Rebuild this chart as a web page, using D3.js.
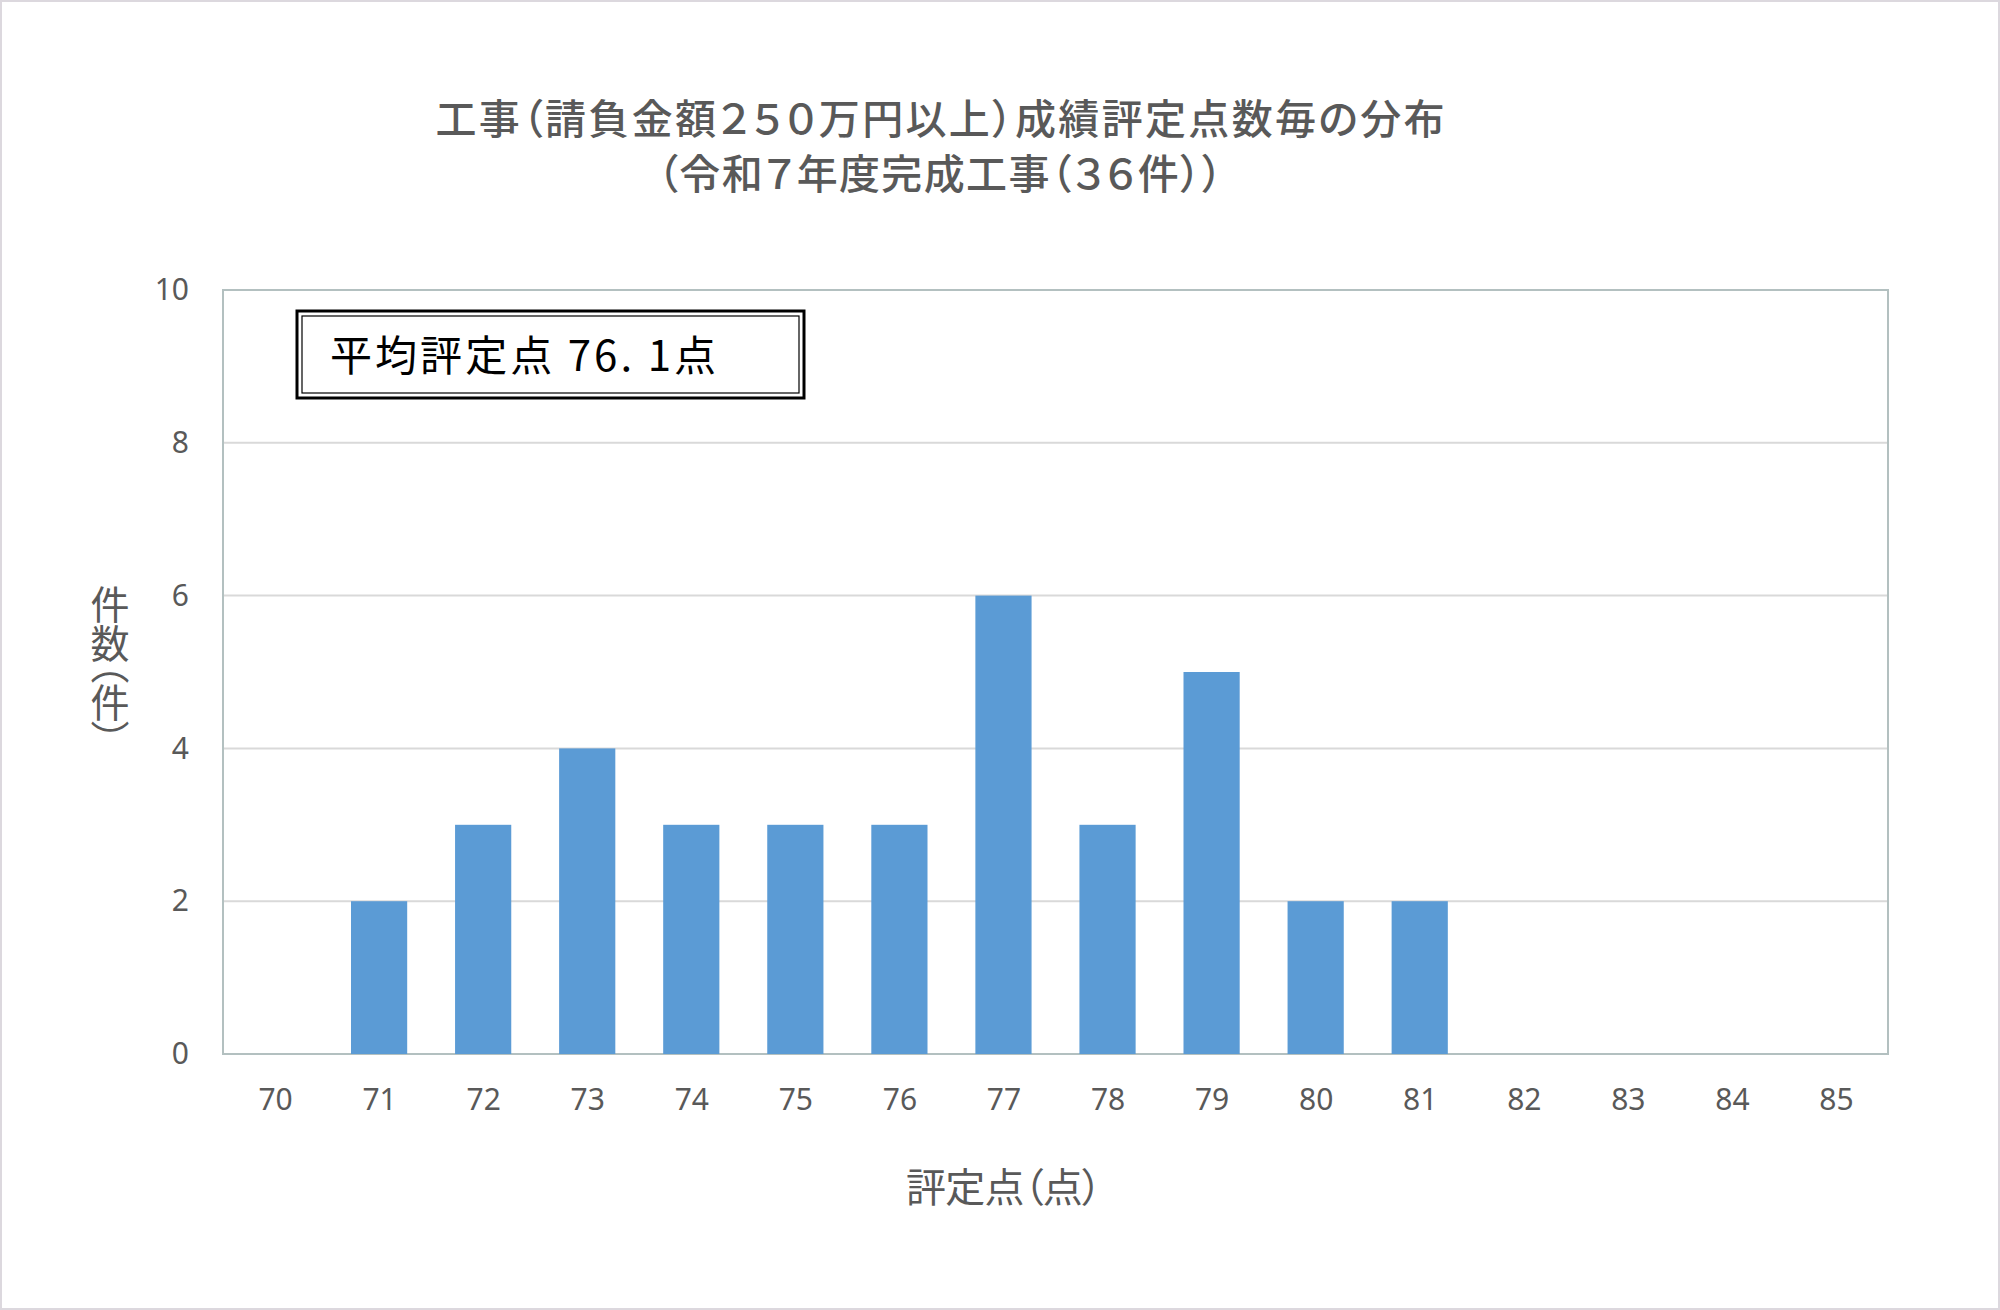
<!DOCTYPE html>
<html>
<head>
<meta charset="utf-8">
<script src="https://d3js.org/d3.v7.min.js"></script>
<style>
  body { margin: 0; background: #fff; }
  text { font-family: "Noto Sans CJK JP", "Noto Sans", sans-serif; }
</style>
</head>
<body>
<div id="chart"></div>
<script>
// data
var scores = ["70", "71", "72", "73", "74", "75", "76", "77", "78", "79", "80", "81", "82", "83", "84", "85"];
var counts = [0, 2, 3, 4, 3, 3, 3, 6, 3, 5, 2, 2, 0, 0, 0, 0];
var yTicks = [0, 2, 4, 6, 8, 10];
var titleLines = ["工事（請負金額２５０万円以上）成績評定点数毎の分布", "（令和７年度完成工事（３６件））"];
var averageLabel = "平均評定点 76. 1点";
var xTitle = "評定点（点）";
var yTitle = "件数（件）";

var W = 2000, H = 1310;
var margin = {top: 290, right: 112, bottom: 256, left: 223},
    width = W - margin.left - margin.right,
    height = H - margin.top - margin.bottom;

var root = d3.select("#chart")
    .append("svg")
    .attr("width", W)
    .attr("height", H);

// outer frame
root.append("rect")
    .attr("x", 1).attr("y", 1)
    .attr("width", W - 2).attr("height", H - 2)
    .attr("fill", "#fff")
    .attr("stroke", "#dcd8de")
    .attr("stroke-width", 2);

// title
root.selectAll(".title")
    .data(titleLines)
    .enter()
    .append("text")
    .attr("class", "title")
    .attr("x", 940)
    .attr("y", function(d, i) { return 134 + i * 55; })
    .attr("text-anchor", "middle")
    .attr("textLength", function(d, i) { return i == 0 ? 1009 : 565; })
    .attr("lengthAdjust", "spacing")
    .style("font-size", "41px")
    .style("font-weight", "500")
    .style("font-feature-settings", "'palt'")
    .style("fill", "#595959")
    .text(function(d) { return d; });

var svg = root.append("g")
    .attr("transform", "translate(" + margin.left + "," + margin.top + ")");

var x = d3.scaleBand()
    .range([0, width])
    .domain(scores)
    .paddingInner(0.46)
    .paddingOuter(0.23);

var y = d3.scaleLinear()
    .domain([0, 10])
    .range([height, 0]);

// gridlines
svg.append("g")
    .selectAll("line")
    .data(yTicks)
    .enter()
    .append("line")
    .attr("x1", 0)
    .attr("x2", width)
    .attr("y1", function(d) { return y(d); })
    .attr("y2", function(d) { return y(d); })
    .attr("stroke", "#d9d9d9")
    .attr("stroke-width", 2);

// plot border
svg.append("rect")
    .attr("width", width)
    .attr("height", height)
    .attr("fill", "none")
    .attr("stroke", "#b3c0c0")
    .attr("stroke-width", 2);

// bars
svg.selectAll(".bar")
    .data(counts)
    .enter()
    .append("rect")
    .attr("class", "bar")
    .attr("x", function(d, i) { return x(scores[i]); })
    .attr("y", function(d) { return y(d); })
    .attr("width", x.bandwidth())
    .attr("height", function(d) { return height - y(d); })
    .attr("fill", "#5b9bd5");

// Y axis
var yAxis = svg.append("g")
    .call(d3.axisLeft(y).tickValues(yTicks).tickSize(0).tickPadding(34));
yAxis.select(".domain").remove();
yAxis.selectAll("text")
    .style("font-family", "'Noto Sans', sans-serif")
    .style("font-size", "30px")
    .style("fill", "#595959");

// X axis
var xAxis = svg.append("g")
    .attr("transform", "translate(0," + height + ")")
    .call(d3.axisBottom(d3.scalePoint().domain(scores).range([x.step() / 2, width - x.step() / 2])).tickSize(0).tickPadding(35));
xAxis.select(".domain").remove();
xAxis.selectAll("text")
    .style("font-family", "'Noto Sans', sans-serif")
    .style("font-size", "30px")
    .style("fill", "#595959");

// axis titles
root.append("text")
    .attr("x", 1004)
    .attr("y", 1202)
    .attr("text-anchor", "middle")
    .attr("textLength", 196)
    .attr("lengthAdjust", "spacing")
    .style("font-size", "40px")
    .style("font-feature-settings", "'palt'")
    .style("fill", "#595959")
    .text(xTitle);

root.append("text")
    .attr("x", 110)
    .attr("y", 663)
    .attr("text-anchor", "middle")
    .style("writing-mode", "vertical-rl")
    .style("font-size", "39px")
    .style("font-feature-settings", "'vpal'")
    .style("fill", "#595959")
    .text(yTitle);

// average box (double border)
var box = root.append("g");
box.append("rect")
    .attr("x", 297).attr("y", 311)
    .attr("width", 507).attr("height", 87)
    .attr("fill", "#fff")
    .attr("stroke", "#000")
    .attr("stroke-width", 3);
box.append("rect")
    .attr("x", 302).attr("y", 316)
    .attr("width", 497).attr("height", 77)
    .attr("fill", "none")
    .attr("stroke", "#000")
    .attr("stroke-width", 1.2);
box.append("text")
    .attr("x", 330)
    .attr("y", 371)
    .attr("textLength", 386)
    .attr("lengthAdjust", "spacing")
    .style("font-size", "42px")
    .style("fill", "#000")
    .text(averageLabel);
</script>
</body>
</html>
